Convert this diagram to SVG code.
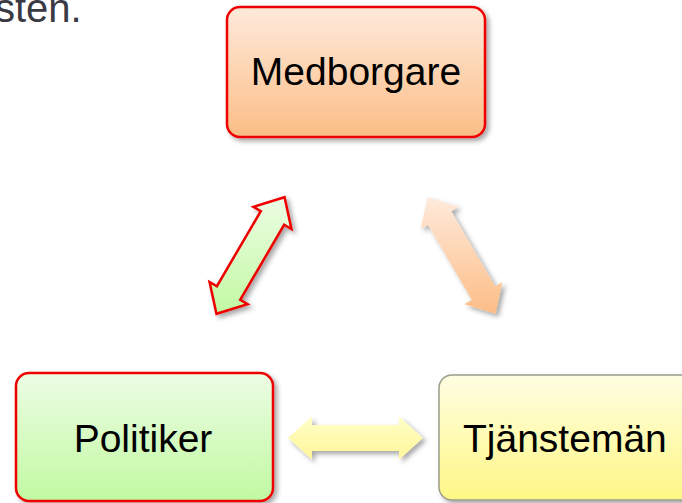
<svg xmlns="http://www.w3.org/2000/svg" width="682" height="503" viewBox="0 0 682 503">
<defs>
<linearGradient id="gOrange" x1="0" y1="0" x2="0" y2="1"><stop offset="0" stop-color="#feeadb"/><stop offset="1" stop-color="#fcbd86"/></linearGradient>
<linearGradient id="gGreen" x1="0" y1="0" x2="0" y2="1"><stop offset="0" stop-color="#edfde4"/><stop offset="1" stop-color="#c1f9a2"/></linearGradient>
<linearGradient id="gYellow" x1="0" y1="0" x2="0" y2="1"><stop offset="0" stop-color="#fffee2"/><stop offset="1" stop-color="#fff785"/></linearGradient>
<linearGradient id="gYArrow" x1="0" y1="0" x2="0" y2="1"><stop offset="0" stop-color="#ffffc8"/><stop offset="1" stop-color="#fff598"/></linearGradient>
<filter id="shadow" x="-20%" y="-20%" width="140%" height="140%">
<feDropShadow dx="3" dy="3" stdDeviation="2.5" flood-color="#000" flood-opacity="0.35"/>
</filter>
</defs>
<style>
.label{font-family:"Liberation Sans",Arial,sans-serif;font-size:39px;fill:#000;}
.box{filter:url(#shadow);}
.redline{stroke:#ee0000;stroke-width:2.5;}
</style>
<text x="-5" y="22" style="font-family:'Liberation Sans',Arial,sans-serif;font-size:40px;fill:#3a3a44">sten.</text>
<g id="node-medborgare">
<rect class="box redline" x="227" y="7" width="258" height="130" rx="13" fill="url(#gOrange)"/>
<text class="label" x="356" y="85" text-anchor="middle">Medborgare</text>
</g>
<g id="node-politiker">
<rect class="box redline" x="16" y="373" width="257" height="128" rx="13" fill="url(#gGreen)"/>
<text class="label" x="143" y="452" text-anchor="middle">Politiker</text>
</g>
<g id="node-tjansteman">
<rect class="box" x="439" y="375" width="258" height="125" rx="13" fill="url(#gYellow)" stroke="#9c9c8c" stroke-width="1.5"/>
<text class="label" x="463" y="452">Tjänstemän</text>
</g>
<g id="connectors">
<path class="box redline" fill="url(#gGreen)" stroke-linejoin="miter" d="M216.45 313.78 L209.56 281.96 L216.89 286.25 L260.79 211.13 L253.46 206.84 L284.55 197.22 L291.44 229.04 L284.11 224.75 L240.21 299.87 L247.54 304.16 Z"/>
<path class="box" fill="url(#gOrange)" d="M495.55 313.78 L502.44 281.96 L495.11 286.25 L451.21 211.13 L458.54 206.84 L427.45 197.22 L420.56 229.04 L427.89 224.75 L471.79 299.87 L464.46 304.16 Z"/>
<path class="box" fill="url(#gYArrow)" d="M288 438 L312 416.5 L312 425 L399 425 L399 416.5 L423 438 L399 459.5 L399 451 L312 451 L312 459.5 Z"/>
</g>
</svg>
